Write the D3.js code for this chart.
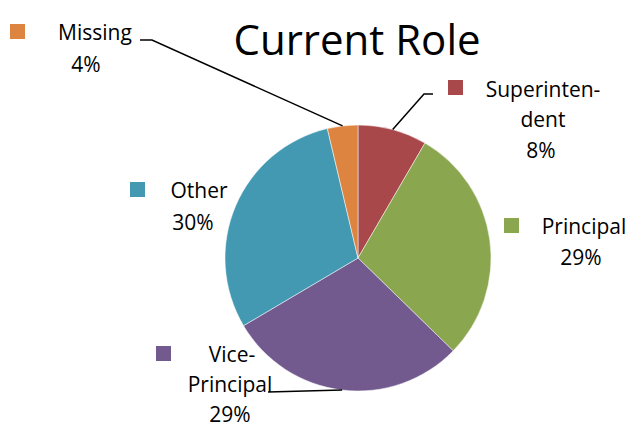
<!DOCTYPE html>
<html><head><meta charset="utf-8">
<script src="https://cdn.jsdelivr.net/npm/d3@7"></script>
<style>body{margin:0;background:#fff}svg{display:block}text{font-family:"Open Sans",sans-serif;fill:#000}</style>
</head><body>
<svg id="c" width="634" height="434"></svg>
<script>
const categories = ["Superintendent","Principal","Vice-Principal","Other","Missing"];
const values = [8.4, 28.9, 29.2, 29.8, 3.7];
const pctLabels = ["8%","29%","29%","30%","4%"];
const colors = ["#A8484A","#8AA64E","#725A8F","#4399B1","#DD8440"];
const nameLines = [["Superinten-","dent"],["Principal"],["Vice-","Principal"],["Other"],["Missing"]];

const svg = d3.select("#c");
const cx = 358, cy = 258, R = 133;
const g = svg.append("g").attr("transform",`translate(${cx},${cy})`);
const pie = d3.pie().sort(null).value(d=>d)(values);
const arc = d3.arc().innerRadius(0).outerRadius(R);
g.selectAll("path").data(pie).join("path")
  .attr("d",arc).attr("fill",(d,i)=>colors[i]).attr("stroke","#fff").attr("stroke-width",0.5);

svg.append("text").attr("x",357).attr("y",55).attr("text-anchor","middle")
  .attr("font-size",42).text("Current Role");

const layout = [
  {sq:[448,80], lines:[[543,97],[543,127],[541,158]], leader:[[433,94],[424,94]]},
  {sq:[504,218], lines:[[584,234],[581,265]], leader:null},
  {sq:[156,346], lines:[[232,362],[230,392],[230,422]], leader:[[268,392]]},
  {sq:[130,182], lines:[[199,198],[193,230]], leader:null},
  {sq:[10,24], lines:[[95,40],[86,72]], leader:[[140,40],[152,40]]}
];
layout.forEach((L,i)=>{
  svg.append("rect").attr("x",L.sq[0]).attr("y",L.sq[1]).attr("width",15).attr("height",15).attr("fill",colors[i]);
  const texts = nameLines[i].concat([pctLabels[i]]);
  texts.forEach((t,j)=>{
    svg.append("text").attr("x",L.lines[j][0]).attr("y",L.lines[j][1])
      .attr("text-anchor","middle").attr("font-size",21).text(t);
  });
  if(L.leader){
    const mid = (pie[i].startAngle+pie[i].endAngle)/2;
    const end = [cx + R*Math.sin(mid), cy - R*Math.cos(mid)];
    const pts = L.leader.concat([end]);
    svg.append("path").attr("d",d3.line()(pts)).attr("fill","none").attr("stroke","#000").attr("stroke-width",1.5);
  }
});
</script>
</body></html>
